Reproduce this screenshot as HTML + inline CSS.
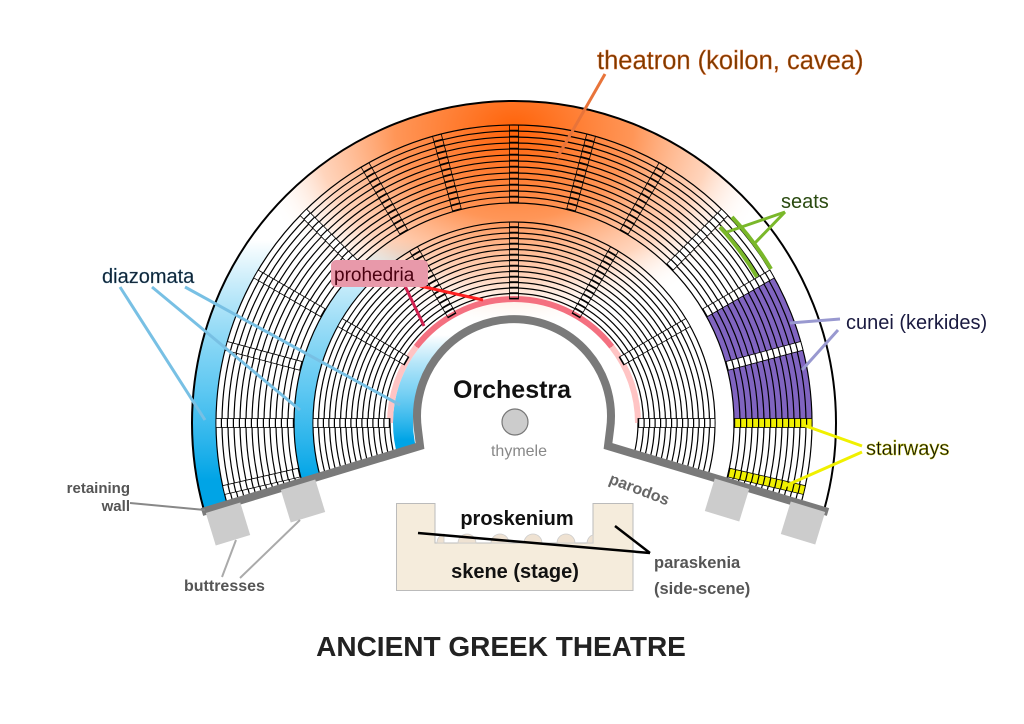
<!DOCTYPE html>
<html><head><meta charset="utf-8"><style>
html,body{margin:0;padding:0;background:#fff;}
svg{display:block;font-family:"Liberation Sans",sans-serif;}
</style></head><body>
<svg width="1024" height="724" viewBox="0 0 1024 724" xmlns="http://www.w3.org/2000/svg">
<defs>
<clipPath id="cav"><polygon points="514,417.5 114,538.7 114,0 914,0 914,538.7"/></clipPath>
<clipPath id="left"><rect x="0" y="0" width="514" height="724"/></clipPath>
<radialGradient id="og" gradientUnits="userSpaceOnUse" cx="514" cy="130" r="265" gradientTransform="translate(514 130) scale(1 0.75) translate(-514 -130)">
<stop offset="0" stop-color="#ff6208" stop-opacity="1"/>
<stop offset="0.45" stop-color="#ff8a45" stop-opacity="0.9"/>
<stop offset="0.75" stop-color="#ffb890" stop-opacity="0.6"/>
<stop offset="1" stop-color="#ffffff" stop-opacity="0"/>
</radialGradient>
<linearGradient id="bg" gradientUnits="userSpaceOnUse" x1="0" y1="240" x2="0" y2="480">
<stop offset="0" stop-color="#00a8e8" stop-opacity="0"/>
<stop offset="0.6" stop-color="#30b8ee" stop-opacity="0.75"/>
<stop offset="1" stop-color="#00a4e6" stop-opacity="1"/>
</linearGradient>
<linearGradient id="bg2" gradientUnits="userSpaceOnUse" x1="0" y1="335" x2="0" y2="440">
<stop offset="0" stop-color="#00a8e8" stop-opacity="0"/>
<stop offset="0.5" stop-color="#30b8ee" stop-opacity="0.6"/>
<stop offset="1" stop-color="#00a4e6" stop-opacity="1"/>
</linearGradient>
</defs>

<g clip-path="url(#cav)">
<circle cx="514" cy="423" r="322" fill="#fff"/>
<circle cx="514" cy="423" r="322" fill="url(#og)"/>
<g clip-path="url(#left)" fill="none">
<circle cx="514" cy="423" r="310" stroke-width="24" stroke="url(#bg)"/>
<circle cx="514" cy="423" r="210.5" stroke-width="19" stroke="url(#bg)"/>
<circle cx="514" cy="423" r="111" stroke-width="20" stroke="url(#bg2)"/>
</g>
<path d="M734,425 L812,425 A298,298 0 0 0 772,274 L704.5,313 A220,220 0 0 1 734,425 Z" fill="#8064c0"/>
<g fill="none" stroke="#000" stroke-width="1.2">
<circle cx="514" cy="423" r="322" stroke-width="2"/>
<circle cx="514" cy="423" r="220"/><circle cx="514" cy="423" r="226"/><circle cx="514" cy="423" r="232"/><circle cx="514" cy="423" r="238"/><circle cx="514" cy="423" r="244"/><circle cx="514" cy="423" r="250"/><circle cx="514" cy="423" r="256"/><circle cx="514" cy="423" r="262"/><circle cx="514" cy="423" r="268"/><circle cx="514" cy="423" r="274"/><circle cx="514" cy="423" r="280"/><circle cx="514" cy="423" r="286"/><circle cx="514" cy="423" r="292"/><circle cx="514" cy="423" r="298"/>
<circle cx="514" cy="423" r="124"/><circle cx="514" cy="423" r="129.5"/><circle cx="514" cy="423" r="135"/><circle cx="514" cy="423" r="140.5"/><circle cx="514" cy="423" r="146"/><circle cx="514" cy="423" r="151.5"/><circle cx="514" cy="423" r="157"/><circle cx="514" cy="423" r="162.5"/><circle cx="514" cy="423" r="168"/><circle cx="514" cy="423" r="173.5"/><circle cx="514" cy="423" r="179"/><circle cx="514" cy="423" r="184.5"/><circle cx="514" cy="423" r="190"/><circle cx="514" cy="423" r="195.5"/><circle cx="514" cy="423" r="201"/>
</g>
<g fill="none" stroke-width="6">
<path d="M390,423 A124,124 0 0 1 416.3,346.7" stroke="#ffc4c4"/>
<path d="M611.7,346.7 A124,124 0 0 1 638,423" stroke="#ffc4c4"/>
<path d="M416.3,346.7 A124,124 0 0 1 611.7,346.7" stroke="#f47080"/>
</g>
<g>
<g transform="rotate(0 514 423)"><rect x="734" y="418.5" width="78" height="9" fill="#f0f000" stroke="#000" stroke-width="0.8"/><line x1="734" y1="423" x2="812" y2="423" stroke="#000" stroke-width="9" stroke-dasharray="1.2 4.8"/></g>
<g transform="rotate(13 514 423)"><rect x="734" y="418.5" width="78" height="9" fill="#f0f000" stroke="#000" stroke-width="0.8"/><line x1="734" y1="423" x2="812" y2="423" stroke="#000" stroke-width="9" stroke-dasharray="1.2 4.8"/></g>
<g fill="#fff" stroke="#000">
<g transform="rotate(-15 514 423)"><rect x="734" y="418.5" width="78" height="9" stroke-width="0.8"/><line x1="734" y1="423" x2="812" y2="423" stroke-width="9" stroke-dasharray="1.2 4.8"/></g>
<g transform="rotate(-30 514 423)"><rect x="734" y="418.5" width="78" height="9" stroke-width="0.8"/><line x1="734" y1="423" x2="812" y2="423" stroke-width="9" stroke-dasharray="1.2 4.8"/></g>
<g transform="rotate(-45 514 423)"><rect x="734" y="418.5" width="78" height="9" stroke-width="0.8"/><line x1="734" y1="423" x2="812" y2="423" stroke-width="9" stroke-dasharray="1.2 4.8"/></g>
<g transform="rotate(-60 514 423)"><rect x="734" y="418.5" width="78" height="9" fill="none" stroke-width="0.8"/><line x1="734" y1="423" x2="812" y2="423" stroke-width="9" stroke-dasharray="1.2 4.8"/></g>
<g transform="rotate(-75 514 423)"><rect x="734" y="418.5" width="78" height="9" fill="none" stroke-width="0.8"/><line x1="734" y1="423" x2="812" y2="423" stroke-width="9" stroke-dasharray="1.2 4.8"/></g>
<g transform="rotate(-90 514 423)"><rect x="734" y="418.5" width="78" height="9" fill="none" stroke-width="0.8"/><line x1="734" y1="423" x2="812" y2="423" stroke-width="9" stroke-dasharray="1.2 4.8"/></g>
<g transform="rotate(-105 514 423)"><rect x="734" y="418.5" width="78" height="9" fill="none" stroke-width="0.8"/><line x1="734" y1="423" x2="812" y2="423" stroke-width="9" stroke-dasharray="1.2 4.8"/></g>
<g transform="rotate(-120 514 423)"><rect x="734" y="418.5" width="78" height="9" fill="none" stroke-width="0.8"/><line x1="734" y1="423" x2="812" y2="423" stroke-width="9" stroke-dasharray="1.2 4.8"/></g>
<g transform="rotate(-135 514 423)"><rect x="734" y="418.5" width="78" height="9" stroke-width="0.8"/><line x1="734" y1="423" x2="812" y2="423" stroke-width="9" stroke-dasharray="1.2 4.8"/></g>
<g transform="rotate(-150 514 423)"><rect x="734" y="418.5" width="78" height="9" stroke-width="0.8"/><line x1="734" y1="423" x2="812" y2="423" stroke-width="9" stroke-dasharray="1.2 4.8"/></g>
<g transform="rotate(-165 514 423)"><rect x="734" y="418.5" width="78" height="9" stroke-width="0.8"/><line x1="734" y1="423" x2="812" y2="423" stroke-width="9" stroke-dasharray="1.2 4.8"/></g>
<g transform="rotate(-180 514 423)"><rect x="734" y="418.5" width="78" height="9" stroke-width="0.8"/><line x1="734" y1="423" x2="812" y2="423" stroke-width="9" stroke-dasharray="1.2 4.8"/></g>
<g transform="rotate(-193 514 423)"><rect x="734" y="418.5" width="78" height="9" stroke-width="0.8"/><line x1="734" y1="423" x2="812" y2="423" stroke-width="9" stroke-dasharray="1.2 4.8"/></g>
<g transform="rotate(0 514 423)"><rect x="638" y="418.5" width="77" height="9" stroke-width="0.8"/><line x1="638" y1="423" x2="715" y2="423" stroke-width="9" stroke-dasharray="1.2 4.3"/></g>
<g transform="rotate(-30 514 423)"><rect x="638" y="418.5" width="77" height="9" stroke-width="0.8"/><line x1="638" y1="423" x2="715" y2="423" stroke-width="9" stroke-dasharray="1.2 4.3"/></g>
<g transform="rotate(-60 514 423)"><rect x="638" y="418.5" width="77" height="9" fill="none" stroke-width="0.8"/><line x1="638" y1="423" x2="715" y2="423" stroke-width="9" stroke-dasharray="1.2 4.3"/></g>
<g transform="rotate(-90 514 423)"><rect x="638" y="418.5" width="77" height="9" fill="none" stroke-width="0.8"/><line x1="638" y1="423" x2="715" y2="423" stroke-width="9" stroke-dasharray="1.2 4.3"/></g>
<g transform="rotate(-120 514 423)"><rect x="638" y="418.5" width="77" height="9" fill="none" stroke-width="0.8"/><line x1="638" y1="423" x2="715" y2="423" stroke-width="9" stroke-dasharray="1.2 4.3"/></g>
<g transform="rotate(-150 514 423)"><rect x="638" y="418.5" width="77" height="9" stroke-width="0.8"/><line x1="638" y1="423" x2="715" y2="423" stroke-width="9" stroke-dasharray="1.2 4.3"/></g>
<g transform="rotate(-180 514 423)"><rect x="638" y="418.5" width="77" height="9" stroke-width="0.8"/><line x1="638" y1="423" x2="715" y2="423" stroke-width="9" stroke-dasharray="1.2 4.3"/></g>
</g>
</g>
</g>
<g fill="none" stroke="#7ab82a" stroke-width="4">
<path d="M720,227 A284,284 0 0 1 757,277"/>
<path d="M732,217 A298,298 0 0 1 771,269"/>
</g>
<circle cx="514" cy="420" r="95" fill="#fff"/>
<path d="M202,512 L420,446 L418,430 A97,97 0 1 1 610,430 L608,446 L828,512" fill="none" stroke="#7a7a7a" stroke-width="8" stroke-linejoin="miter"/>
<g fill="#cccccc">
<rect x="-18" y="-17" width="36" height="34" transform="translate(228,524) rotate(-17)"/>
<rect x="-18" y="-17" width="36" height="34" transform="translate(303,501) rotate(-17)"/>
<rect x="-18" y="-17" width="36" height="34" transform="translate(727,500) rotate(17)"/>
<rect x="-18" y="-17" width="36" height="34" transform="translate(803,523) rotate(17)"/>
</g>
<circle cx="515" cy="422" r="13" fill="#ccc" stroke="#777" stroke-width="1.2"/>
<path d="M396.5,503.5 H435 V543 H593 V503.5 H633 V590.5 H396.5 Z" fill="#f5ecdc" stroke="#bbb" stroke-width="1"/>
<g fill="#efe2d2" stroke="#ccc" stroke-width="0.8">
<path d="M437,543 A9,9 0 0 1 444,534 L444,543Z"/>
<path d="M458,543 A9,9 0 0 1 476,543Z"/>
<path d="M491,543 A9,9 0 0 1 509,543Z"/>
<path d="M524,543 A9,9 0 0 1 542,543Z"/>
<path d="M557,543 A9,9 0 0 1 575,543Z"/>
<path d="M587,543 A7,9 0 0 1 593,535 L593,543Z"/>
</g>
<g stroke="#000" stroke-width="2.5" fill="none">
<line x1="418" y1="533" x2="650" y2="553"/>
<line x1="615" y1="526" x2="650" y2="553"/>
</g>
<g stroke-width="3" fill="none">
<line x1="605" y1="74" x2="557" y2="158" stroke="#e8743a"/>
<line x1="785" y1="212" x2="727" y2="232" stroke="#7ab82a"/>
<line x1="785" y1="212" x2="753" y2="245" stroke="#7ab82a"/>
<line x1="840" y1="319" x2="790" y2="323" stroke="#9999d0"/>
<line x1="838" y1="330" x2="802" y2="370" stroke="#9999d0"/>
<line x1="862" y1="446" x2="803" y2="425" stroke="#f0f000"/>
<line x1="862" y1="452" x2="785" y2="486" stroke="#f0f000"/>
<line x1="120" y1="287" x2="205" y2="420" stroke="#78c0e4"/>
<line x1="152" y1="287" x2="300" y2="410" stroke="#78c0e4"/>
<line x1="185" y1="287" x2="400" y2="405" stroke="#78c0e4"/>
<line x1="405" y1="286" x2="424" y2="326" stroke="#d02050"/>
<line x1="420" y1="286" x2="483" y2="300" stroke="#ff2020"/>
<line x1="130" y1="503" x2="205" y2="510" stroke="#888" stroke-width="2"/>
<line x1="222" y1="577" x2="236" y2="540" stroke="#aaa" stroke-width="2"/>
<line x1="240" y1="578" x2="300" y2="520" stroke="#aaa" stroke-width="2"/>
</g>
<rect x="331" y="260" width="97" height="27" rx="5" fill="#e899aa"/>
<g font-size="22">
<text x="597" y="69" fill="#7a3a00" stroke="#e8743a" stroke-width="0.4" font-size="25.5">theatron (koilon, cavea)</text>
<text x="781" y="208" fill="#2a4a10" font-size="20">seats</text>
<text x="846" y="329" fill="#1a1a40" font-size="20">cunei (kerkides)</text>
<text x="866" y="455" fill="#111" stroke="#c8c800" stroke-width="0.4" font-size="20">stairways</text>
<text x="102" y="283" fill="#102030" stroke="#3a7090" stroke-width="0.3" font-size="20">diazomata</text>
<text x="334" y="281" fill="#4a0010" font-size="19">prohedria</text>
<text x="512" y="398" font-size="25" font-weight="bold" text-anchor="middle" fill="#111">Orchestra</text>
<text x="519" y="456" font-size="16" text-anchor="middle" fill="#888">thymele</text>
<text x="608" y="483" font-size="16" font-weight="bold" fill="#666" transform="rotate(21 608 483)">parodos</text>
<text x="130" y="493" font-size="15" font-weight="bold" fill="#555" text-anchor="end">retaining</text>
<text x="130" y="511" font-size="15" font-weight="bold" fill="#555" text-anchor="end">wall</text>
<text x="184" y="591" font-size="16" font-weight="bold" fill="#555">buttresses</text>
<text x="517" y="525" font-size="20" font-weight="bold" text-anchor="middle" fill="#111">proskenium</text>
<text x="515" y="578" font-size="20" font-weight="bold" text-anchor="middle" fill="#111">skene (stage)</text>
<text x="654" y="568" font-size="16.5" font-weight="bold" fill="#555">paraskenia</text>
<text x="654" y="594" font-size="16.5" font-weight="bold" fill="#555">(side-scene)</text>
<text x="501" y="656" font-size="28" font-weight="bold" text-anchor="middle" fill="#222">ANCIENT GREEK THEATRE</text>
</g>
</svg>
</body></html>
